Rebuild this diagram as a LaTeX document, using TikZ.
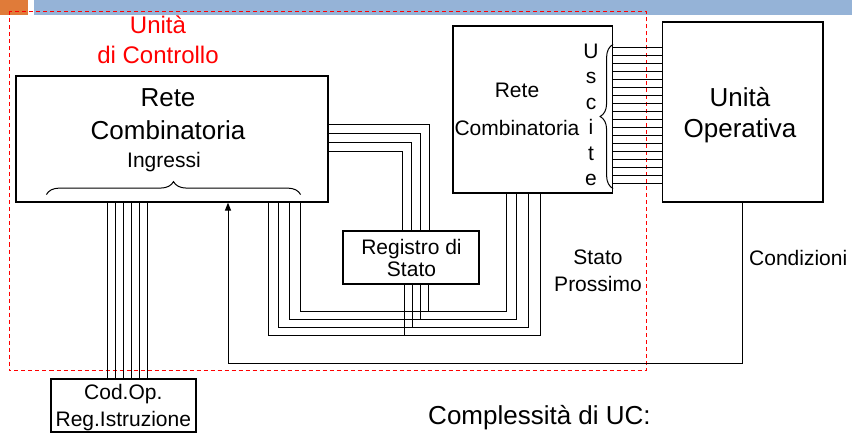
\documentclass[tikz,border=0pt]{standalone}
\usepackage{fontspec}
\setmainfont{Liberation Sans}
\usetikzlibrary{positioning,arrows.meta,calc,decorations.pathreplacing}
\definecolor{barorange}{RGB}{224,123,57}
\definecolor{barblue}{RGB}{149,179,215}
\definecolor{ucred}{RGB}{255,0,0}

\begin{document}
\begin{tikzpicture}[
      x=1pt, y=-1pt,
      blk/.style={draw, line width=1.2pt, inner sep=0pt},
      wire/.style={line width=1pt},
      brc/.style={line width=1pt, decorate, decoration={brace, amplitude=13pt}},
      ucframe/.style={draw=ucred, line width=1pt, dash pattern=on 4pt off 3pt},
      big/.style={font=\fontsize{26}{32.7}\selectfont, align=center, inner sep=0pt},
      small/.style={font=\fontsize{21}{26.5}\selectfont, align=center, inner sep=0pt}
    ]
    \useasboundingbox (0,0) rectangle (852,433);
    % slide bars and control unit frame
    \fill[barorange] (0,0) rectangle (28,15);
    \fill[barblue] (34,0) rectangle (852,15);
    \draw[ucframe] (9,11.5) rectangle (646,370);
    % blocks
    \node[blk, minimum width=312pt, minimum height=126pt] (rcL) at (172,139) {};
    \node[blk, minimum width=159.5pt, minimum height=167pt] (rcR) at (532.75,109.5) {};
    \node[blk, minimum width=160.5pt, minimum height=180pt] (uo) at (742.75,112) {};
    \node[blk, minimum width=136pt, minimum height=53pt] (reg) at (411,257.5) {};
    \node[blk, minimum width=145pt, minimum height=53pt] (codop) at (123.5,405.5) {};
    % texts
    \node[font=\fontsize{24}{30}\selectfont, align=center, inner sep=0pt, text=ucred]
         (uctitle) at (158,39.6) {Unità\\di Controllo};
    \node[big] (rcLtxt) at (168,114.5) {Rete\\Combinatoria};
    \node[small] (ingr) at (164,162) {Ingressi};
    \node[small, font=\fontsize{21}{38.5}\selectfont] (rcRtxt) at (517,109.3) {Rete\\Combinatoria};
    \node[small, font=\fontsize{21}{25.5}\selectfont] (usc) at (591,114.8) {U\\s\\c\\i\\t\\e};
    \node[big, font=\fontsize{26}{31}\selectfont] (uotxt) at (740,115.5) {Unità\\Operativa};
    \node[small, font=\fontsize{21}{21.7}\selectfont] (regtxt) at (411.5,258.2) {Registro di\\Stato};
    \node[small, font=\fontsize{21}{26.7}\selectfont] (codtxt) at (123.3,407.9) {Cod.Op.\\Reg.Istruzione};
    \node[small, font=\fontsize{21}{26.3}\selectfont] (sptxt) at (598,270.8) {Stato\\Prossimo};
    \node[small, anchor=west] (cond) at (749,257.7) {Condizioni};
    \node[big] (compl) at (539.5,418) {Complessità di UC:};
    % braces
    \draw[brc] ($(rcL.south west)+(31,-8)$) -- ($(rcL.south east)+(-28,-8)$);
    \draw[brc] ($(rcR.south east)+(0,-5)$) -- ($(rcR.north east)+(0,19)$);
    % present state into the left network
    \foreach \y/\x in {125/429, 134/420, 143/411, 152/402}
      \draw[wire] (rcL.east |- 0,\y) -| (reg.north -| \x,0);
    % next state bus
    \foreach \y/\xl/\xm/\xr in {311.5/300/428/506, 319.5/289/420/516,
                                327.5/278/412/528, 335.5/268/404/540}{
      \draw[wire] (rcL.south -| \xl,0) -- (\xl,\y) -| (rcR.south -| \xr,0);
      \draw[wire] (reg.south -| \xm,0) -- (\xm,\y);
    }
    % opcode lines
    \foreach \x in {107,115,...,147}
      \draw[wire] (rcL.south -| \x,0) -- (codop.north -| \x,0);
    % outputs to the operative unit
    \foreach \k [evaluate=\k as \y using 47.3+8*\k] in {0,...,17}
      \draw[wire] (rcR.east |- 0,\y) -- (uo.west |- 0,\y);
    % conditions back to the control network
    \draw[wire, -{Triangle[length=8pt,width=6pt]}] (uo.south) -- ++(0,160.5)
         -| (rcL.south -| 228,0);
  \end{tikzpicture}
\end{document}
